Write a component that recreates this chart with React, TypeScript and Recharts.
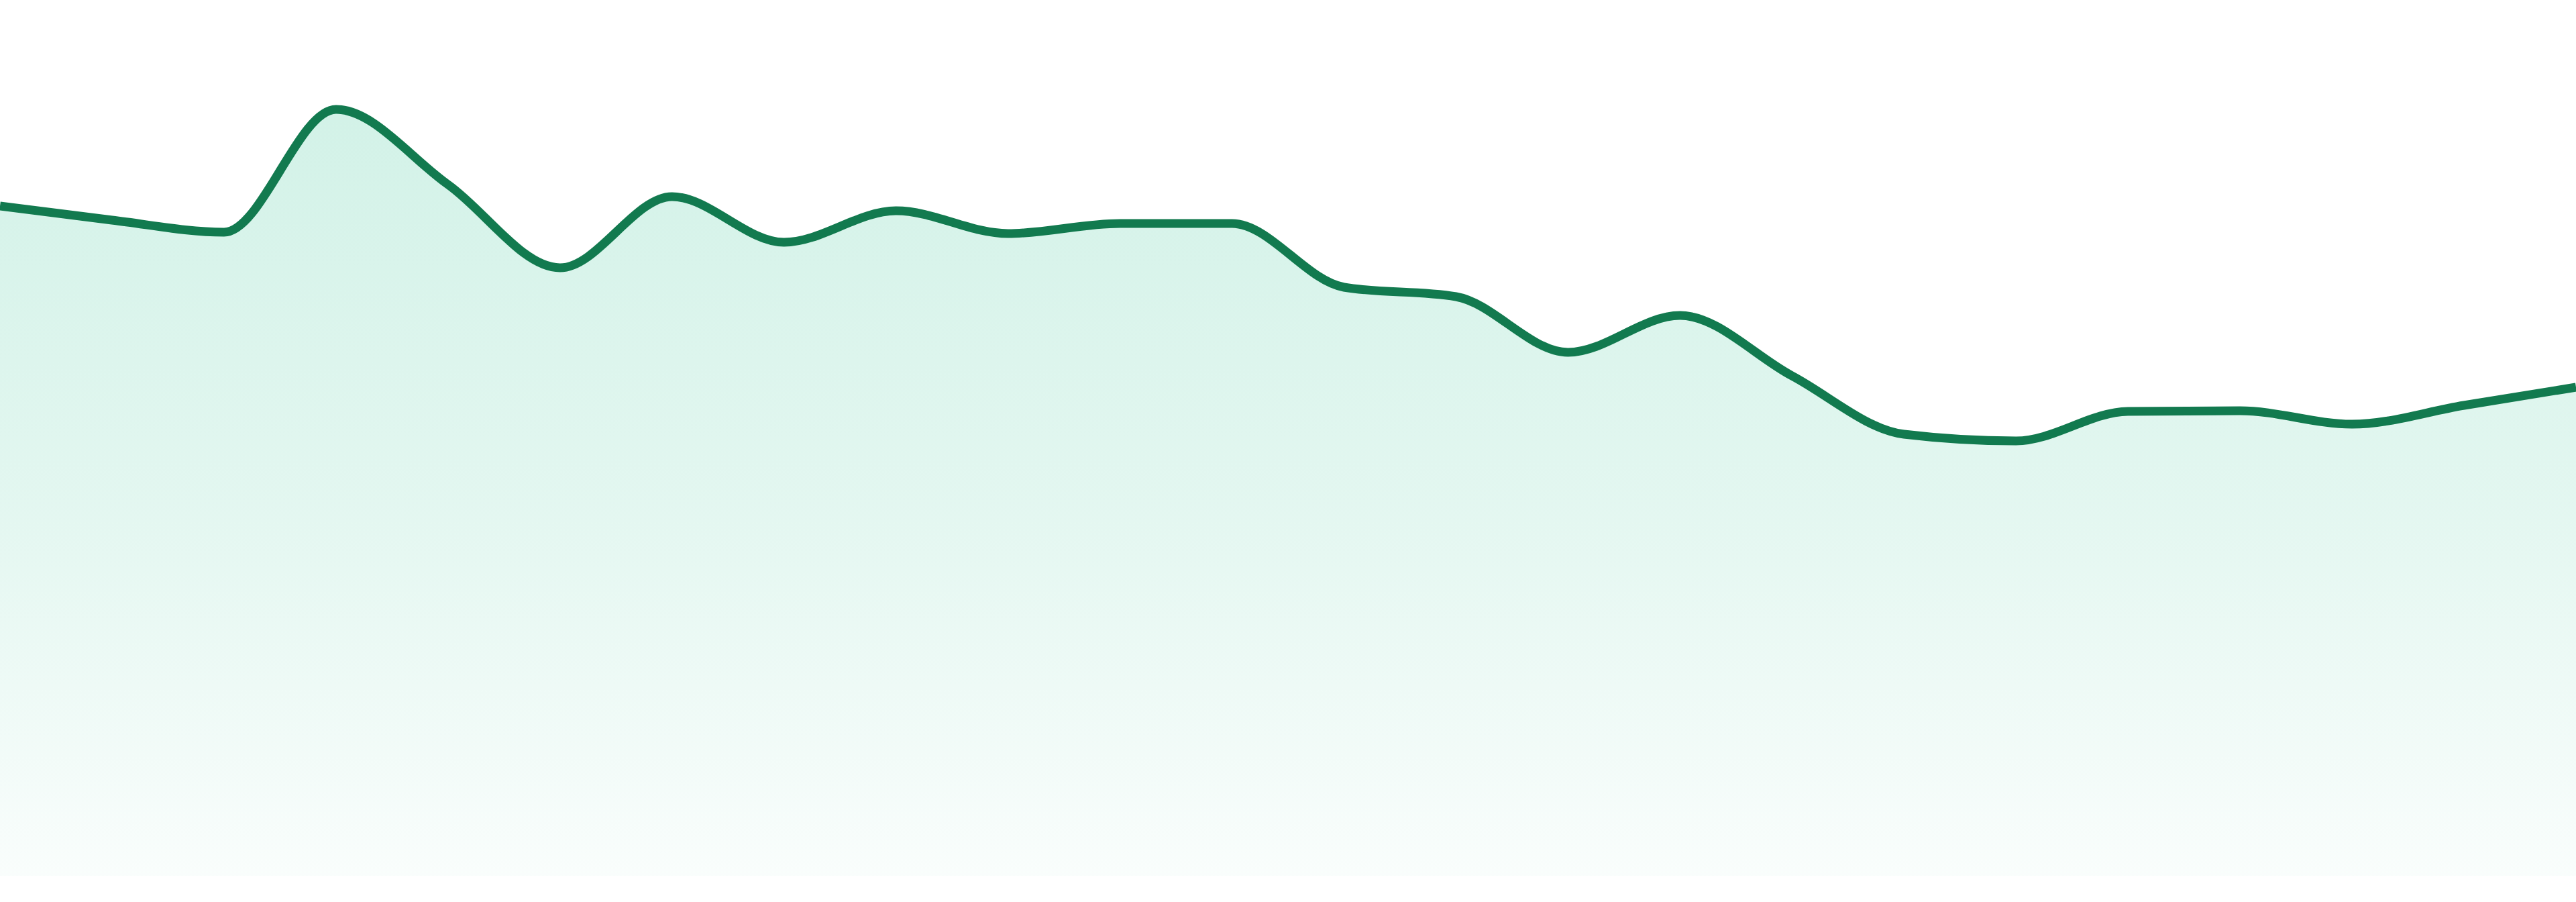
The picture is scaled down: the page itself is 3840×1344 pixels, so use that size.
import React from "react";
import { AreaChart, Area, XAxis, YAxis } from "recharts";

const labels: string[] = [
  "P1", "P2", "P3", "P4", "P5", "P6", "P7", "P8", "P9", "P10", "P11", "P12",
  "P13", "P14", "P15", "P16", "P17", "P18", "P19", "P20", "P21", "P22", "P23", "P24",
];

const values: number[] = [
  99.8, 97.7, 95.9, 114.2, 103.0, 90.6, 101.2, 94.4, 99.1, 95.7, 97.2, 97.2,
  87.7, 86.3, 78.0, 83.5, 74.5, 65.8, 64.8, 69.2, 69.3, 67.3, 70.1, 72.8,
];

const yDomain: [number, number] = [0, 130.5];

const data = labels.map((label, i) => ({ label, value: values[i] }));

export default function App() {
  return (
    <div style={{ position: "absolute", left: 0, top: 0, width: 3840, height: 1344, background: "#ffffff" }}>
      <AreaChart
        width={3840}
        height={1344}
        data={data}
        margin={{ top: 0, right: 0, bottom: 39, left: 0 }}
      >
        <defs>
          <linearGradient id="fillGrad" x1="0" y1="0" x2="0" y2="1">
            <stop offset="0%" stopColor="#10b981" stopOpacity={0.31} />
            <stop offset="50%" stopColor="#10b981" stopOpacity={0.2} />
            <stop offset="100%" stopColor="#10b981" stopOpacity={0.04} />
          </linearGradient>
        </defs>
        <XAxis dataKey="label" hide />
        <YAxis hide domain={yDomain} />
        <Area
          type="monotone"
          dataKey="value"
          stroke="#127a4f"
          strokeWidth={13}
          fill="url(#fillGrad)"
          isAnimationActive={false}
          dot={false}
          activeDot={false}
        />
      </AreaChart>
    </div>
  );
}
